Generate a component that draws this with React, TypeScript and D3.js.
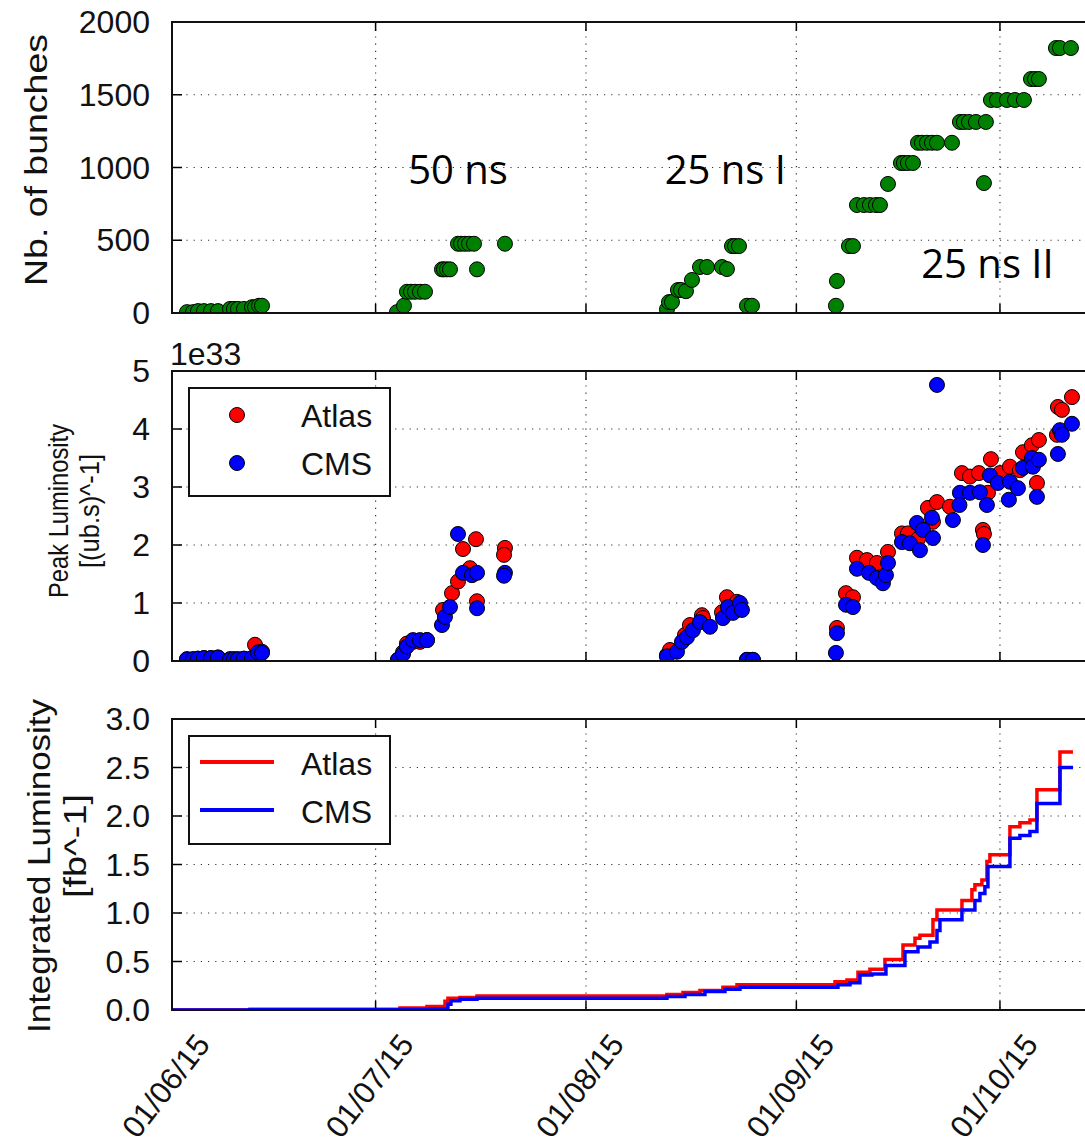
import React from "react";
import * as d3 from "d3";

// ---------- DATA (days since 2015-06-01) ----------
const bunchDay = [2.21, 3.09, 3.83, 4.71, 5.75, 6.78, 8.55, 9.14, 9.72, 10.61, 11.79, 12.23, 12.82, 13.26,
  33.15, 34.18, 34.62, 35.21, 35.8, 36.54, 37.28, 39.78, 40.08, 40.52, 40.96, 42.14, 42.58, 43.17, 43.76, 44.5, 44.94, 49.06,
  72.93, 73.23, 73.67, 74.55, 75.0, 75.73, 76.62, 77.8, 78.83, 81.04, 81.77, 82.51, 82.96, 83.55, 84.72, 85.46,
  97.83, 97.98, 99.75, 100.34, 100.93, 101.96, 102.84, 103.73, 104.32, 105.5, 107.41, 107.85, 108.44, 109.18, 109.92, 110.5,
  111.24, 111.98, 112.72, 114.93, 116.1, 116.69, 117.43, 118.46, 119.64, 119.93, 120.67, 121.56, 123.03, 124.21, 125.53,
  126.57, 127.16, 127.74, 130.25, 130.84, 132.46];
const bunchCount = [6, 6, 13, 13, 13, 13, 28, 28, 28, 28, 40, 40, 50, 50,
  6, 50, 146, 146, 146, 146, 146, 300, 300, 300, 300, 476, 476, 476, 476, 476, 300, 476,
  25, 75, 75, 158, 158, 150, 227, 316, 316, 316, 302, 460, 460, 460, 50, 50,
  50, 220, 460, 460, 742, 742, 742, 742, 742, 887, 1031, 1031, 1031, 1031, 1170, 1170,
  1170, 1170, 1170, 1170, 1313, 1313, 1313, 1313, 893, 1313, 1464, 1464, 1464, 1464, 1464,
  1608, 1608, 1608, 1821, 1821, 1821];

const atlasPeakDay = [2.21, 3.09, 3.83, 4.71, 5.75, 6.78, 8.55, 9.14, 9.72, 10.61, 11.79, 12.23, 13.26,
  33.3, 34.04, 34.62, 35.51, 36.54, 37.57, 39.93, 41.26, 42.14, 42.88, 43.91, 44.79, 44.94, 49.06, 48.92,
  72.93, 73.38, 75.59, 76.32, 78.09, 78.24, 81.04, 81.77, 83.25, 84.72, 85.6,
  97.98, 99.31, 100.34, 100.93, 102.4, 103.87, 105.5, 107.56, 108.44, 109.92, 111.39, 112.13, 112.72, 114.63,
  116.4, 117.58, 118.9, 119.49, 119.64, 120.23, 120.67, 122.0, 123.47, 124.94, 125.39, 126.71, 127.45, 127.74,
  130.4, 130.54, 131.13, 132.61];
const atlasPeak = [0.03, 0.03, 0.04, 0.05, 0.05, 0.06, 0.03, 0.03, 0.03, 0.04, 0.05, 0.28, 0.16,
  0.02, 0.15, 0.3, 0.33, 0.33, 0.36, 0.88, 1.17, 1.37, 1.93, 1.6, 2.1, 1.03, 1.95, 1.83,
  0.1, 0.19, 0.45, 0.62, 0.79, 0.74, 0.84, 1.1, 1.02, 0.02, 0.02,
  0.57, 1.17, 1.1, 1.78, 1.74, 1.69, 1.88, 2.2, 2.2, 2.1, 2.64, 2.4, 2.74, 2.66,
  3.24, 3.18, 3.24, 2.26, 2.19, 2.9, 3.48, 3.24, 3.35, 3.29, 3.6, 3.72, 3.07, 3.81,
  3.9, 4.38, 4.33, 4.55];

const cmsPeakDay = [2.21, 3.09, 3.83, 4.71, 5.75, 6.78, 8.55, 9.14, 9.72, 10.61, 11.79, 12.67, 13.26,
  33.3, 34.04, 34.62, 35.51, 36.54, 37.57, 39.78, 40.22, 40.96, 42.14, 42.88, 44.2, 44.94, 44.95, 49.06, 48.92,
  72.93, 74.41, 75.14, 75.88, 76.76, 77.8, 79.27, 81.18, 81.92, 82.66, 83.69, 83.98, 84.72, 85.6,
  97.83, 97.98, 99.31, 100.34, 100.93, 102.7, 103.87, 104.76, 105.2, 105.5, 107.56, 108.74, 109.77, 110.21,
  110.65, 111.98, 112.13, 112.72, 115.07, 116.1, 116.03, 117.58, 119.05, 119.49, 120.08, 120.52, 121.7,
  123.32, 123.47, 124.65, 125.39, 126.71, 126.86, 127.45, 127.74, 130.54, 130.84, 131.13, 132.61];
const cmsPeak = [0.03, 0.03, 0.04, 0.05, 0.05, 0.06, 0.03, 0.03, 0.03, 0.04, 0.05, 0.15, 0.14,
  0.02, 0.12, 0.25, 0.36, 0.36, 0.36, 0.62, 0.76, 0.93, 2.19, 1.52, 1.48, 1.52, 0.91, 1.52, 1.47,
  0.08, 0.16, 0.33, 0.41, 0.53, 0.67, 0.59, 0.74, 0.93, 0.83, 1.0, 0.88, 0.02, 0.02,
  0.14, 0.48, 0.97, 0.93, 1.59, 1.52, 1.43, 1.34, 1.48, 1.69, 2.05, 2.03, 2.38, 1.91,
  2.26, 2.47, 2.12, 4.76, 2.43, 2.9, 2.69, 2.9, 2.91, 2.0, 2.69, 3.2, 3.07,
  2.78, 3.09, 2.98, 3.33, 3.5, 3.35, 2.83, 3.47, 3.57, 3.98, 3.9, 4.09];

const atlasIntDay = [0, 11.49, 33.59, 37.57, 40.22, 40.66, 42.43, 44.94, 72.93, 75.29, 77.8, 81.18, 83.25, 97.69, 99.46,
  101.08, 102.84, 105.05, 107.71, 109.48, 110.21, 112.13, 112.72, 116.4, 117.87, 118.31, 119.34, 120.08, 120.52,
  123.47, 124.94, 126.42, 127.45, 130.84, 132.76];
const atlasInt = [0, 0.005, 0.02, 0.035, 0.09, 0.12, 0.13, 0.145, 0.16, 0.18, 0.2, 0.235, 0.26, 0.29, 0.31,
  0.39, 0.42, 0.52, 0.67, 0.74, 0.77, 0.93, 1.03, 1.13, 1.24, 1.29, 1.34, 1.53, 1.6,
  1.89, 1.93, 1.96, 2.27, 2.66, 2.66];
const cmsIntDay = [0, 11.49, 38.0, 40.66, 41.1, 42.43, 44.94, 72.93, 75.59, 78.53, 81.48, 83.69, 98.13, 99.9,
  101.37, 103.14, 105.2, 108.0, 109.92, 111.69, 112.72, 113.16, 116.4, 118.31, 119.05, 119.78, 120.23,
  123.47, 124.94, 126.42, 127.45, 130.84, 132.76];
const cmsInt = [0, 0.005, 0.01, 0.06, 0.095, 0.11, 0.12, 0.14, 0.16, 0.19, 0.215, 0.235, 0.26, 0.28,
  0.36, 0.37, 0.46, 0.6, 0.65, 0.7, 0.82, 0.93, 1.03, 1.13, 1.2, 1.27, 1.48,
  1.77, 1.8, 1.84, 2.13, 2.5, 2.5];

const bunchTicks = [0, 500, 1000, 1500, 2000];
const peakTicks = [0, 1, 2, 3, 4, 5];
const intTicks = [0, 0.5, 1.0, 1.5, 2.0, 2.5, 3.0];
const annotations = [
  { text: "50 ns", day: 34.8, value: 890 },
  { text: "25 ns I", day: 72.6, value: 890 },
  { text: "25 ns II", day: 110.4, value: 240 },
];
const seriesNames = ["Atlas", "CMS"];
const seriesColors = ["#ff0000", "#0000ff"];

// ---------- LAYOUT ----------
const W = 1085, H = 1148;
const L = 172, R = 1097;
const START = Date.UTC(2015, 5, 1);
const toDate = (d: number) => new Date(START + d * 86400000);
const x = d3.scaleUtc().domain([toDate(0), toDate(136.3)]).range([L, R]);
const monthTicks = x.ticks(d3.utcMonth.every(1) as any);
const fmt = d3.utcFormat("%d/%m/%y");

const panels = [
  { top: 22, bottom: 313 },
  { top: 371, bottom: 661 },
  { top: 719, bottom: 1010 },
];
const y1 = d3.scaleLinear().domain([0, 2000]).range([panels[0].bottom, panels[0].top]);
const y2 = d3.scaleLinear().domain([0, 5]).range([panels[1].bottom, panels[1].top]);
const y3 = d3.scaleLinear().domain([0, 3]).range([panels[2].bottom, panels[2].top]);

const FONT = "'Liberation Sans', Arial, sans-serif";
const TICK_FS = 32;

function Frame({ p, y, ticks, fmtTick, id }: any) {
  const top = p.top, bottom = p.bottom;
  return (
    <g>
      {monthTicks.filter((t) => x(t) > L + 1).map((t, i) => (
        <line key={"gx" + i} x1={x(t)} x2={x(t)} y1={top} y2={bottom} stroke="#333" strokeWidth={1.2} strokeDasharray="1.2,6" />
      ))}
      {ticks.filter((v: number) => y(v) < bottom - 1 && y(v) > top + 1).map((v: number, i: number) => (
        <line key={"gy" + i} x1={L} x2={R} y1={y(v)} y2={y(v)} stroke="#333" strokeWidth={1.2} strokeDasharray="1.2,6" />
      ))}
      {ticks.map((v: number, i: number) => (
        <line key={"ty" + i} x1={L} x2={L + 10} y1={y(v)} y2={y(v)} stroke="#000" strokeWidth={1.5} />
      ))}
      {monthTicks.map((t, i) => (
        <g key={"tx" + i}>
          <line x1={x(t)} x2={x(t)} y1={bottom} y2={bottom - 9} stroke="#000" strokeWidth={1.5} />
          <line x1={x(t)} x2={x(t)} y1={top} y2={top + 9} stroke="#000" strokeWidth={1.5} />
        </g>
      ))}
      {ticks.map((v: number, i: number) => (
        <text key={"ly" + i} x={150} y={y(v)} textAnchor="end" dominantBaseline="central" fontFamily={FONT} fontSize={TICK_FS} fill="#111">
          {fmtTick(v)}
        </text>
      ))}
      <clipPath id={id}>
        <rect x={L} y={top} width={R - L} height={bottom - top} />
      </clipPath>
    </g>
  );
}

function Border({ p }: any) {
  return <rect x={L} y={p.top} width={R - L} height={p.bottom - p.top} fill="none" stroke="#111" strokeWidth={2} />;
}

function VTitle({ x0, yc, len, fs, children }: any) {
  return (
    <text transform={`translate(${x0},${yc}) rotate(-90)`} textAnchor="middle" fontFamily={FONT} fontSize={fs}
      fill="#111" textLength={len} lengthAdjust="spacingAndGlyphs">
      {children}
    </text>
  );
}

export default function App() {
  const stepLine = (days: number[], vals: number[]) =>
    d3.line<number>().x((_, i) => x(toDate(days[i]))).y((v) => y3(v)).curve(d3.curveStepAfter)(vals) || "";

  return (
    <svg width={W} height={H} style={{ position: "absolute", left: 0, top: 0, background: "#fff" }} xmlns="http://www.w3.org/2000/svg">
      <rect x={0} y={0} width={W} height={H} fill="#fff" />

      {/* ---------- Panel 1: bunches ---------- */}
      <Frame p={panels[0]} y={y1} ticks={bunchTicks} fmtTick={(v: number) => String(v)} id="c1" />
      <g clipPath="url(#c1)">
        {bunchDay.map((d, i) => (
          <circle key={i} cx={x(toDate(d))} cy={y1(bunchCount[i])} r={7.5} fill="#008000" stroke="#000" strokeWidth={1} />
        ))}
      </g>
      <Border p={panels[0]} />
      {annotations.map((a, i) => (
        <text key={i} x={x(toDate(a.day))} y={y1(a.value)} fontFamily="'Open Sans', sans-serif" fontSize={40} fill="#000">
          {a.text}
        </text>
      ))}
      <VTitle x0={47} yc={160} len={252} fs={31}>Nb. of bunches</VTitle>

      {/* ---------- Panel 2: peak luminosity ---------- */}
      <Frame p={panels[1]} y={y2} ticks={peakTicks} fmtTick={(v: number) => String(v)} id="c2" />
      <g clipPath="url(#c2)">
        {atlasPeakDay.map((d, i) => (
          <circle key={"a" + i} cx={x(toDate(d))} cy={y2(atlasPeak[i])} r={7.5} fill={seriesColors[0]} stroke="#000" strokeWidth={1} />
        ))}
        {cmsPeakDay.map((d, i) => (
          <circle key={"c" + i} cx={x(toDate(d))} cy={y2(cmsPeak[i])} r={7.5} fill={seriesColors[1]} stroke="#000" strokeWidth={1} />
        ))}
      </g>
      <Border p={panels[1]} />
      <text x={170} y={365} fontFamily={FONT} fontSize={TICK_FS} fill="#111">1e33</text>
      <g>
        <rect x={189} y={388} width={201} height={108} fill="#fff" stroke="#111" strokeWidth={2} />
        {seriesNames.map((n, i) => (
          <g key={n}>
            <circle cx={237} cy={415 + i * 48} r={7.5} fill={seriesColors[i]} stroke="#000" strokeWidth={1} />
            <text x={301} y={427 + i * 48} fontFamily={FONT} fontSize={TICK_FS} fill="#111">{n}</text>
          </g>
        ))}
      </g>
      <VTitle x0={68} yc={511} len={174} fs={27}>Peak Luminosity</VTitle>
      <VTitle x0={99} yc={511} len={114} fs={27}>[(ub.s)^-1]</VTitle>

      {/* ---------- Panel 3: integrated luminosity ---------- */}
      <Frame p={panels[2]} y={y3} ticks={intTicks} fmtTick={(v: number) => v.toFixed(1)} id="c3" />
      <g clipPath="url(#c3)">
        <path d={stepLine(atlasIntDay, atlasInt)} fill="none" stroke={seriesColors[0]} strokeWidth={3.5} />
        <path d={stepLine(cmsIntDay, cmsInt)} fill="none" stroke={seriesColors[1]} strokeWidth={3.5} />
      </g>
      <Border p={panels[2]} />
      <g>
        <rect x={189} y={736} width={201} height={108} fill="#fff" stroke="#111" strokeWidth={2} />
        {seriesNames.map((n, i) => (
          <g key={n}>
            <line x1={200} x2={274} y1={762 + i * 48} y2={762 + i * 48} stroke={seriesColors[i]} strokeWidth={4} />
            <text x={301} y={775 + i * 48} fontFamily={FONT} fontSize={TICK_FS} fill="#111">{n}</text>
          </g>
        ))}
      </g>
      <VTitle x0={50} yc={866} len={334} fs={31}>Integrated Luminosity</VTitle>
      <VTitle x0={86} yc={846} len={104} fs={31}>[fb^-1]</VTitle>

      {/* x tick labels */}
      {monthTicks.map((t, i) => (
        <text key={"xl" + i} transform={`translate(${x(t) - 6},1086) rotate(-52)`} textAnchor="middle" dominantBaseline="central"
          fontFamily={FONT} fontSize={31} fill="#111">
          {fmt(t)}
        </text>
      ))}
    </svg>
  );
}
